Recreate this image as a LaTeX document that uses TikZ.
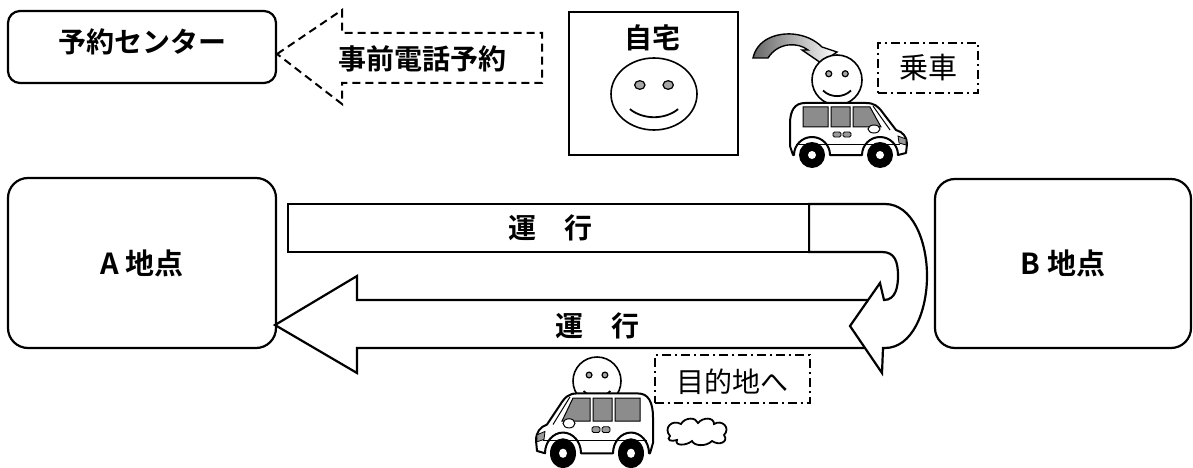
\documentclass[tikz,border=0pt]{standalone}
\usepackage{fontspec}
\setmainfont{Noto Sans CJK JP}[BoldFont={Noto Sans CJK JP Bold}]

\begin{document}
\begin{tikzpicture}[x=1pt,y=-1pt,
  font=\fontsize{28}{30}\selectfont\bfseries,
  rbox/.style={draw,line width=2.2pt,inner sep=0pt},
  callout/.style={line width=2pt,dash pattern=on 8pt off 5pt},
  dashdot/.style={draw,line width=2pt,inner sep=0pt,
                  dash pattern=on 9pt off 4pt on 2pt off 4pt},
  band/.style={draw,fill=white,line width=2.2pt,line join=miter},
  thin/.style={font=\fontsize{29}{31}\selectfont\mdseries},
  face/.pic={
    \draw[fill=white,line width=1.6pt] (0,0) circle[radius=1];
    \draw[fill=black!35,line width=1.2pt] (-0.33,-0.25) circle[radius=0.12]
                                         (0.33,-0.25) circle[radius=0.12];
    \draw[line width=1.8pt] (-0.56,0.42) .. controls (-0.25,0.72) and (0.25,0.72) .. (0.56,0.42);},
  van/.pic={
    % body
    \draw[fill=white,line width=2pt,line join=round]
      (3,55) -- (0,46) -- (0,24) .. controls (0,10) and (5,3) .. (15,3)
      -- (76,3) .. controls (84,3) and (88,6) .. (93,13) -- (106,30)
      .. controls (113,32) and (117,37) .. (117,44) -- (116,53) -- (108,55)
      arc[start angle=0,end angle=-180,radius=18] -- (40,55)
      arc[start angle=0,end angle=-180,radius=18] -- cycle;
    % windows
    \draw[fill=black!45,line width=1pt] (13,7) rectangle (38,27) (41,7) rectangle (60,27)
      (63,7) -- (80,7) -- (91,27) -- (63,27) -- cycle;
    \draw[line width=1pt] (83,6) -- (100,30);
    \draw[line width=1pt] (6,44) -- (110,44);
    % handles, mirror, lamp
    \draw[fill=black!40,line width=0.8pt,rounded corners=1.5pt]
      (43,32) rectangle (51,37) (53,32) rectangle (61,37);
    \draw[fill=white,line width=1pt] (84,29) ellipse[x radius=6,y radius=4];
    \draw[fill=black!40,line width=0.8pt] (108,36) -- (116,39) -- (116,45) -- (109,43) -- cycle;
    % wheels
    \foreach \u in {22,90}{
      \fill (\u,55) circle[radius=13];
      \fill[white] (\u,55) circle[radius=4];}}]
\useasboundingbox (0,0) rectangle (1193,468);

% top row: booking
\node[rbox,rounded corners=12pt,minimum width=268pt,minimum height=72pt,text depth=12pt] (yoyaku) at (142,47) {予約センター};
\draw[callout] ([yshift=-7pt]yoyaku.east) -- (342,10) -- (342,33) -- (542,33) -- (542,83)
  -- (342,83) -- (342,104) -- cycle;
\node (advance) at (422,59) {事前電話予約};

\node[draw,line width=2.5pt,inner sep=0pt,minimum width=169pt,minimum height=143pt] (home) at (653.5,83.5) {};
\node (homelabel) at (652,38) {自宅};
\pic[xscale=43,yscale=36] at (654,94) {face};

% getting in
\draw[line width=1.4pt,left color=black!60,right color=white]
  (753,58) .. controls (757,40) and (775,33) .. (792,34) .. controls (805,35) and (815,40) .. (822,47)
  -- (837,52) -- (821,63) -- (802,50) -- (808,50) .. controls (798,42) and (778,42) .. (768,58) -- cycle;
\pic[scale=25] at (837,80) {face};
\pic at (790,100) {van};
\node[dashdot,thin,minimum width=100pt,minimum height=50pt] (ride) at (928,68) {乗車};

% the two stops
\node[rbox,rounded corners=20pt,minimum width=268pt,minimum height=170pt,font=\fontsize{29}{31}\selectfont\bfseries] (apoint) at (142,263) {A 地点};
\node[rbox,rounded corners=20pt,minimum width=256pt,minimum height=169pt,font=\fontsize{29}{31}\selectfont\bfseries] (bpoint) at (1063,263.5) {B 地点};

% service loop
\draw[band] (275,325) -- (357,276) -- (357,300) -- (875,300) -- (875,348)
  -- (357,348) -- (357,373) -- cycle;
\draw[band] (809,204) -- (885,204) .. controls (912,204) and (927,240) .. (927,276)
  .. controls (927,312) and (912,348) .. (885,348) -- (883,348) -- (882,373) -- (850,326)
  -- (880,283) -- (884,300) .. controls (896,300) and (898,286) .. (898,276)
  .. controls (898,262) and (895,252) .. (882,252) -- (809,252) -- cycle;
\draw[band] (288,204) rectangle (809,252);
\node (runout) at (550,228) {運　行};
\node (runback) at (597,326) {運　行};

% heading off
\pic[scale=24] at (597,381) {face};
\pic[xscale=-1,yscale=1.15] at (653,390) {van};
% exhaust puff
\draw[line width=1.8pt,fill=white]
  (670,436) .. controls (663,428) and (672,419) .. (681,424)
  .. controls (685,417) and (696,417) .. (698,423)
  .. controls (703,417) and (714,417) .. (714,424)
  .. controls (722,419) and (731,428) .. (724,435)
  .. controls (729,442) and (719,446) .. (712,441)
  .. controls (706,447) and (694,446) .. (692,441)
  .. controls (686,446) and (674,446) .. (677,440)
  .. controls (671,442) and (666,440) .. (670,436) -- cycle;
\node[dashdot,thin,minimum width=155pt,minimum height=48pt,text height=30pt,font=\fontsize{28}{30}\selectfont\mdseries] (dest) at (732,379) {目的地へ};
\end{tikzpicture}
\end{document}
